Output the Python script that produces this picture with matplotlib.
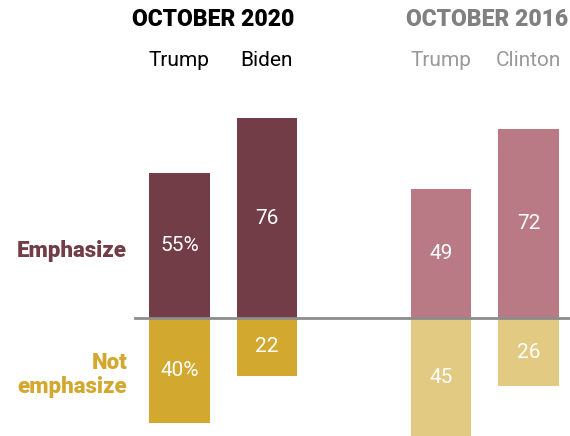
import matplotlib.pyplot as plt

# Emphasize vs. not emphasize, by candidate and survey wave
groups = ['OCTOBER 2020', 'OCTOBER 2016']
candidates = ['Trump', 'Biden', 'Trump', 'Clinton']
emphasize = [55, 76, 49, 72]
not_emphasize = [40, 22, 45, 26]
value_labels_top = ['55%', '76', '49', '72']
value_labels_bottom = ['40%', '22', '45', '26']

pos = [0, 1, 3, 4]
top_colors = ['#723d47', '#723d47', '#ba7a85', '#ba7a85']
bottom_colors = ['#d3a82f', '#d3a82f', '#e2ca82', '#e2ca82']
label_colors = ['#000000', '#000000', '#999999', '#999999']

head = 'Roboto'
body = 'Roboto'

fig = plt.figure(figsize=(5.7, 4.36), dpi=100)
ax = fig.add_axes([0, 0, 1, 1])
ax.set_xlim(-2.057, 4.476)
ax.set_ylim(-44.87, 120.9)
ax.axis('off')

w = 0.69
ax.bar(pos, emphasize, width=w, color=top_colors, zorder=2)
ax.bar(pos, [-v for v in not_emphasize], width=w, color=bottom_colors, zorder=2)
ax.axhline(0, xmin=135 / 570, xmax=1, color='#8c8c8c', lw=2, zorder=3)

for x, v, t in zip(pos, emphasize, value_labels_top):
    ax.text(x, v / 2, t, ha='center', va='center', color='white', fontsize=15, family=body)
for x, v, t in zip(pos, not_emphasize, value_labels_bottom):
    ax.text(x, -v / 2, t, ha='center', va='center', color='white', fontsize=15, family=body)

for x, name, c in zip(pos, candidates, label_colors):
    ax.text(x, 98, name, ha='center', va='center', color=c, fontsize=15, family=body)

ax.text(0.385, 113.3, groups[0], ha='center', va='center', color='black',
        fontsize=16.5, fontweight=900, family=head)
ax.text(3.52, 113.3, groups[1], ha='center', va='center', color='#808080',
        fontsize=16.5, fontweight=900, family=head)

ax.text(-0.60, 25.5, 'Emphasize', ha='right', va='center', color='#723d47',
        fontsize=16, fontweight=900, family=head)
ax.text(-0.60, -21.7, 'Not\nemphasize', ha='right', va='center', color='#d3a82f',
        fontsize=16, fontweight=900, family=head, linespacing=1.15,
        multialignment='right')

fig.savefig('out.png', dpi=100)
